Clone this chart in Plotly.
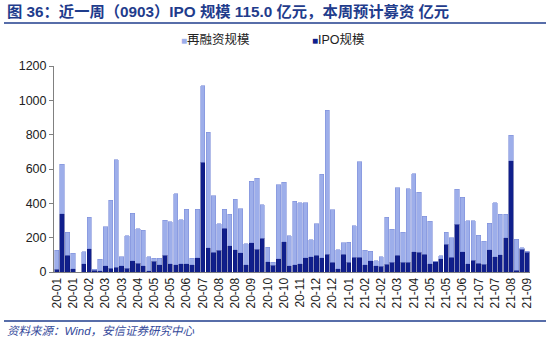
import pandas as pd
import plotly.graph_objects as go

# Weekly fundraising, 2020-01 .. 2021-09 (亿元)
weeks = pd.date_range("2020-01-05", periods=88, freq="7D")
week_labels = [d.strftime("%y-%m") for d in weeks]

ipo = [17, 340, 98, 19, 0, 48, 136, 10, 8, 37, 23, 27, 35, 23, 66, 52,
       37, 8, 64, 41, 99, 47, 41, 48, 48, 41, 84, 640, 140, 115, 128, 254,
       153, 130, 112, 43, 169, 132, 196, 60, 39, 76, 175, 35, 41, 48, 83, 89,
       99, 83, 103, 58, 19, 103, 56, 85, 85, 41, 66, 37, 33, 45, 58, 99,
       58, 57, 118, 115, 103, 48, 60, 76, 163, 85, 277, 118, 48, 68, 52, 45,
       130, 89, 101, 200, 648, 11, 134, 115.0]

refinancing = [109, 289, 133, 91, 0, 70, 184, 7, 67, 227, 396, 627, 54, 188, 277, 200,
               206, 81, 17, 40, 203, 246, 415, 257, 317, 40, 281, 445, 673, 329, 154, 111,
               183, 293, 257, 122, 361, 413, 196, 85, 19, 431, 347, 176, 370, 354, 321, 99,
               183, 486, 840, 305, 111, 66, 117, 185, 558, 85, 54, 29, 56, 273, 192, 392,
               175, 428, 454, 349, 221, 249, 0, 19, 70, 115, 206, 317, 251, 231, 163, 135,
               153, 313, 235, 136, 148, 179, 6, 5]

x = list(range(len(weeks)))
tick_idx = x[::3]
tick_text = [week_labels[i] for i in tick_idx]

LIGHT = "#9DAEEA"
LIGHT_EDGE = "#7F90DA"
DARK = "#101F8C"
DARK_EDGE = "#0B1672"
BLUE_TEXT = "#1F3C8C"
LATIN = "Liberation Sans, Arial, Noto Sans CJK SC"

fig = go.Figure()
fig.add_trace(go.Bar(x=x, y=ipo, name="IPO规模", marker=dict(color=DARK, line=dict(color=DARK_EDGE, width=0.5))))
fig.add_trace(go.Bar(x=x, y=refinancing, name="再融资规模",
                     marker=dict(color=LIGHT, line=dict(color=LIGHT_EDGE, width=0.6))))

L, R, T, B = 54, 20, 66, 73
W, H = 550, 345
pw, ph = W - L - R, H - T - B


def px(xp):
    return (xp - L) / pw


def py(yp):
    return (H - B - yp) / ph


annotations = [
    dict(text="<b>图 36：近一周（0903）IPO 规模 115.0 亿元，本周预计募资 亿元</b>",
         x=px(5), y=py(12), xanchor="left", yanchor="middle",
         font=dict(size=15.3, color=BLUE_TEXT, family=LATIN)),
    dict(text=f"<span style='color:{LIGHT};font-size:10px'>■</span>再融资规模",
         x=px(179), y=py(39), xanchor="left", yanchor="middle",
         font=dict(size=12.5, color="#222222", family=LATIN)),
    dict(text=f"<span style='color:{DARK};font-size:10px'>■</span>IPO规模",
         x=px(310), y=py(39), xanchor="left", yanchor="middle",
         font=dict(size=12.5, color="#222222", family=LATIN)),
    dict(text="<i>资料来源：Wind，安信证券研究中心</i>",
         x=px(5), y=py(331), xanchor="left", yanchor="middle",
         font=dict(size=11.5, color="#34499A", family=LATIN)),
]
for a in annotations:
    a.update(xref="paper", yref="paper", showarrow=False)

shapes = [
    dict(type="line", xref="paper", yref="paper", x0=px(4), x1=px(546), y0=py(23), y1=py(23),
         line=dict(color=BLUE_TEXT, width=1.5)),
    dict(type="line", xref="paper", yref="paper", x0=px(4), x1=px(546), y0=py(321), y1=py(321),
         line=dict(color=BLUE_TEXT, width=1.5)),
]

fig.update_layout(
    barmode="stack",
    bargap=0.2,
    width=W, height=H,
    margin=dict(l=L, r=R, t=T, b=B, pad=0),
    paper_bgcolor="white", plot_bgcolor="white",
    showlegend=False,
    annotations=annotations,
    shapes=shapes,
    font=dict(family=LATIN, color="#222222"),
    xaxis=dict(
        range=[-0.5, len(x) - 0.5],
        tickmode="array", tickvals=tick_idx, ticktext=tick_text,
        tickangle=-90, tickfont=dict(size=12, color="#222222"),
        showline=True, linecolor="#808080", linewidth=1,
        ticks="", showgrid=False, zeroline=False,
    ),
    yaxis=dict(
        range=[0, 1200], dtick=200,
        tickfont=dict(size=12.5, color="#222222"),
        showline=True, linecolor="#808080", linewidth=1,
        ticks="outside", ticklen=4, tickcolor="#808080",
        showgrid=False, zeroline=False,
    ),
)

fig.write_html("out.html")
